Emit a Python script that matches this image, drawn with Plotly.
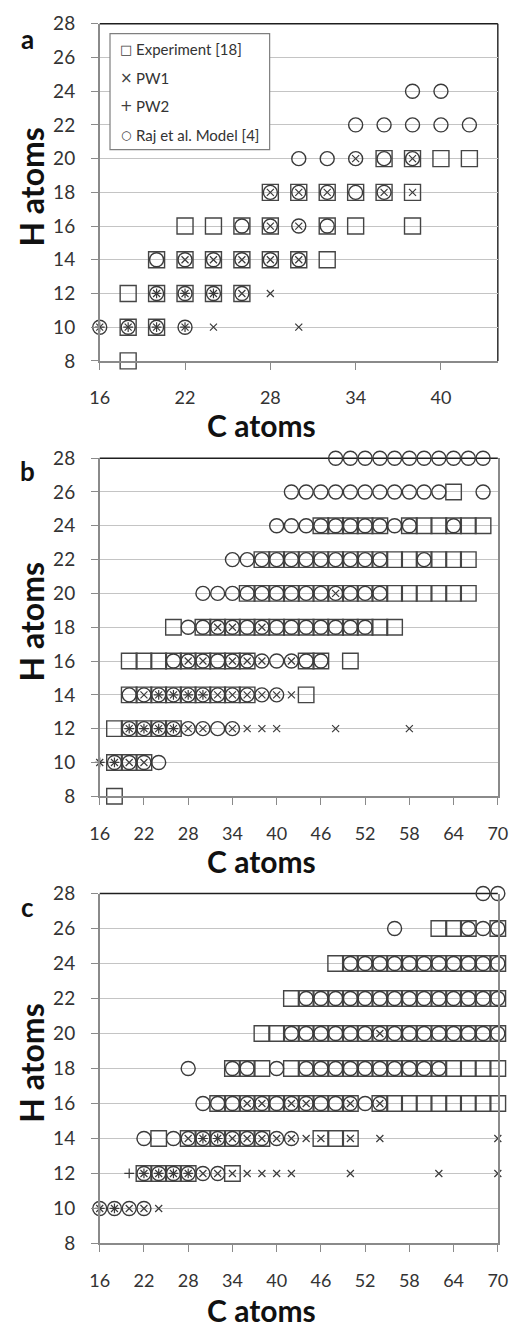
import plotly.graph_objects as go

# ---------------- data (H atoms -> list of C atoms) ----------------
Y_TICKS = [8, 10, 12, 14, 16, 18, 20, 22, 24, 26, 28]
A_X_TICKS = [16, 22, 28, 34, 40]
BC_X_TICKS = [16, 22, 28, 34, 40, 46, 52, 58, 64, 70]
SERIES_NAMES = ["Experiment [18]", "PW1", "PW2", "Raj et al. Model [4]"]
LEGEND_GLYPHS = ["\u25a1", "\u00d7", "+", "\u25cb"]

# panel a
A_EXP = {8: [18], 10: [18, 20], 12: [18, 20, 22, 24, 26],
         14: [20, 22, 24, 26, 28, 30, 32], 16: [22, 24, 26, 28, 32, 34, 38],
         18: [28, 30, 32, 34, 36, 38], 20: [36, 38, 40, 42]}
A_PW1 = {10: [16, 18, 20, 22, 24, 30], 12: [20, 22, 24, 26, 28],
         14: [22, 24, 26, 28, 30], 16: [28, 30], 18: [28, 30, 32, 36, 38],
         20: [34, 38]}
A_PW2 = {10: [16, 18, 20, 22], 12: [20, 22, 24]}
A_RAJ = {10: [16, 18, 20, 22], 12: [20, 22, 24, 26],
         14: [20, 22, 24, 26, 28, 30], 16: [26, 28, 30, 32],
         18: [28, 30, 32, 34, 36], 20: [30, 32, 34, 36, 38],
         22: [34, 36, 38, 40, 42], 24: [38, 40]}

# panel b
B_EXP = {8: [18], 10: [18, 20, 22], 12: [18, 20, 22, 24, 26],
         14: [20, 22, 24, 26, 28, 30, 32, 34, 36, 44],
         16: [20, 22, 24, 26, 28, 30, 32, 34, 36, 44, 46, 50],
         18: [26, 30, 32, 34, 36, 38, 40, 42, 44, 46, 48, 50, 52, 54, 56],
         20: [36, 38, 40, 42, 44, 46, 48, 50, 52, 54, 56, 58, 60, 62, 64, 66],
         22: [38, 40, 42, 44, 46, 48, 50, 52, 54, 56, 58, 60, 62, 64, 66],
         24: [46, 48, 50, 52, 54, 58, 60, 62, 64, 66, 68],
         26: [64]}
B_PW1 = {10: [16, 18, 20, 22],
         12: [20, 22, 24, 26, 28, 30, 34, 36, 38, 40, 48, 58],
         14: [22, 24, 26, 28, 30, 32, 34, 36, 38, 40, 42],
         16: [28, 30, 34, 36, 38, 42], 18: [32, 34, 38], 20: [48]}
B_PW2 = {10: [16, 18], 12: [20, 22, 24, 26], 14: [24, 26, 28, 30]}
B_RAJ = {10: [18, 20, 22, 24], 12: [20, 22, 24, 26, 28, 30, 32, 34],
         14: [20, 22, 24, 26, 28, 30, 32, 34, 36, 38, 40],
         16: [26, 28, 30, 32, 34, 36, 38, 40, 42, 44, 46],
         18: [28, 30, 32, 34, 36, 38, 40, 42, 44, 46, 48, 50, 52],
         20: [30, 32, 34, 36, 38, 40, 42, 44, 46, 48, 50, 52, 54],
         22: [34, 36, 38, 40, 42, 44, 46, 48, 50, 52, 54, 60],
         24: [40, 42, 44, 46, 48, 50, 52, 54, 56, 58, 64],
         26: [42, 44, 46, 48, 50, 52, 54, 56, 58, 60, 62, 68],
         28: [48, 50, 52, 54, 56, 58, 60, 62, 64, 66, 68]}

# panel c
C_EXP = {12: [22, 24, 26, 28, 34],
         14: [24, 28, 30, 32, 34, 36, 38, 46, 48, 50],
         16: [32, 34, 36, 38, 40, 42, 44, 46, 48, 50, 54, 56, 58, 60, 62, 64, 66, 68, 70],
         18: [34, 36, 38, 42, 44, 46, 48, 50, 52, 54, 56, 58, 60, 62, 64, 66, 68, 70],
         20: [38, 40, 42, 44, 46, 48, 50, 52, 54, 56, 58, 60, 62, 64, 66, 68, 70],
         22: [42, 44, 46, 48, 50, 52, 54, 56, 58, 60, 62, 64, 66, 68, 70],
         24: [48, 50, 52, 54, 56, 58, 60, 62, 64, 66, 68, 70],
         26: [62, 64, 66, 70]}
C_PW1 = {10: [16, 18, 20, 22, 24],
         12: [22, 24, 26, 28, 30, 32, 34, 36, 38, 40, 42, 50, 62, 70],
         14: [28, 30, 32, 34, 36, 38, 40, 42, 44, 46, 50, 54, 70],
         16: [36, 38, 42, 44, 50, 54], 20: [54]}
C_PW2 = {10: [16, 18], 12: [20, 22, 24, 26, 28], 14: [30, 32]}
C_RAJ = {10: [16, 18, 20, 22], 12: [22, 24, 26, 28, 30, 32],
         14: [22, 26, 28, 30, 32, 34, 36, 38, 40, 42],
         16: [30, 32, 34, 36, 38, 40, 42, 44, 46, 48, 50, 52, 54],
         18: [28, 34, 36, 40, 44, 46, 48, 50, 52, 54, 56, 58, 60, 62],
         20: [42, 44, 46, 48, 50, 52, 54, 56, 58, 60, 62, 64, 66, 68, 70],
         22: [44, 46, 48, 50, 52, 54, 56, 58, 60, 62, 64, 66, 68, 70],
         24: [50, 52, 54, 56, 58, 60, 62, 64, 66, 68, 70],
         26: [56, 66, 68, 70],
         28: [68, 70]}

# ---------------- helpers ----------------
def flatten(d):
    xs, ys = [], []
    for h, cs in d.items():
        for c in cs:
            xs.append(c)
            ys.append(h)
    return xs, ys

W, H = 521, 1337
FONT = "Lato"
DARK = "#3a3a3a"
AXIS_GRAY = "#8a8a8a"

def px_x(p):
    return p / W

def px_y(p):
    return 1 - p / H

PANELS = [
    dict(key="", data=(A_EXP, A_PW1, A_PW2, A_RAJ), xr=[16, 44], ticks=A_X_TICKS,
         top=12, bottom=355, sq=16, label="a", label_y=27, xt_y=420, right_dark=True),
    dict(key="2", data=(B_EXP, B_PW1, B_PW2, B_RAJ), xr=[16, 70], ticks=BC_X_TICKS,
         top=454, bottom=798, sq=15.5, label="b", label_y=467, xt_y=864, right_dark=False),
    dict(key="3", data=(C_EXP, C_PW1, C_PW2, C_RAJ), xr=[16, 70], ticks=BC_X_TICKS,
         top=897, bottom=1253, sq=15.5, label="c", label_y=911, xt_y=1321, right_dark=False),
]
LEFT, RIGHT = 93.3, 507.3

STYLES = [
    dict(symbol="square-open", color="#454545", width=1.4),
    dict(symbol="x-thin-open", color=DARK, width=1.2),
    dict(symbol="cross-thin-open", color=DARK, width=1.2),
    dict(symbol="circle-open", color=DARK, width=1.4),
]
SIZES = [None, 7, 7, 14]
DRAW_ORDER = [0, 3, 1, 2]

fig = go.Figure()
layout = dict(width=W, height=H, margin=dict(l=0, r=0, t=0, b=0),
              paper_bgcolor="white", plot_bgcolor="white", showlegend=False,
              font=dict(family=FONT, color="#333333"))
annotations = []
shapes = []

for p in PANELS:
    k = p["key"]
    for i in DRAW_ORDER:
        xs, ys = flatten(p["data"][i])
        st = STYLES[i]
        size = p["sq"] if i == 0 else SIZES[i]
        fig.add_trace(go.Scatter(
            x=xs, y=ys, mode="markers", name=SERIES_NAMES[i], showlegend=False,
            xaxis="x" + k, yaxis="y" + k, cliponaxis=False,
            marker=dict(symbol=st["symbol"], size=size, color=st["color"],
                        line=dict(color=st["color"], width=st["width"])),
            hoverinfo="x+y"))
    layout["xaxis" + k] = dict(
        domain=[px_x(LEFT), px_x(RIGHT)], range=p["xr"], tickvals=p["ticks"],
        anchor="y" + k, showgrid=False, zeroline=False, showline=True,
        linecolor=AXIS_GRAY, linewidth=1.5, mirror=False,
        ticks="outside", ticklen=7, tickcolor=AXIS_GRAY, tickwidth=1.2,
        tickfont=dict(family=FONT, size=18, color="#333333"),
        ticklabelstandoff=13)
    layout["yaxis" + k] = dict(
        domain=[px_y(p["bottom"]), px_y(p["top"])], range=[8, 28], tickvals=Y_TICKS,
        anchor="x" + k, showgrid=True, gridcolor="#c4c4c4", gridwidth=1.3,
        zeroline=False, showline=True, linecolor=AXIS_GRAY, linewidth=1.5,
        mirror=not p["right_dark"],
        ticks="outside", ticklen=7, tickcolor=AXIS_GRAY, tickwidth=1.2,
        tickfont=dict(family=FONT, size=19, color="#333333"),
        ticklabelstandoff=12)
    # dark top border (and right border for panel a)
    shapes.append(dict(type="line", xref="paper", yref="paper",
                       x0=px_x(LEFT), x1=px_x(RIGHT), y0=px_y(p["top"]), y1=px_y(p["top"]),
                       line=dict(color="#1e1e1e", width=1.4), layer="below"))
    if p["right_dark"]:
        shapes.append(dict(type="line", xref="paper", yref="paper",
                           x0=px_x(RIGHT), x1=px_x(RIGHT), y0=px_y(p["bottom"]),
                           y1=px_y(p["top"]),
                           line=dict(color="#1e1e1e", width=1.4), layer="below"))
    annotations.append(dict(text="<b>C atoms</b>", x=px_x(262), y=px_y(p["xt_y"]),
                            xref="paper", yref="paper", showarrow=False,
                            xanchor="center", yanchor="middle",
                            font=dict(family=FONT, size=30, color="#111111")))
    annotations.append(dict(text="<b>H atoms</b>", x=px_x(22),
                            y=px_y((p["top"] + p["bottom"]) / 2 - 5),
                            xref="paper", yref="paper", showarrow=False, textangle=-90,
                            xanchor="center", yanchor="middle",
                            font=dict(family=FONT, size=32, color="#111111")))
    annotations.append(dict(text="<b>" + p["label"] + "</b>", x=px_x(18),
                            y=px_y(p["label_y"]), xref="paper", yref="paper",
                            showarrow=False, xanchor="center", yanchor="middle",
                            font=dict(family=FONT, size=26, color="#111111")))

# legend box for panel a
LEG_L, LEG_R, LEG_T, LEG_B = 104, 270, 22, 140
LEG_ROW_Y = [38, 67, 96, 125]
GLYPH_SIZES = [13, 15, 15, 12]
shapes.append(dict(type="rect", xref="paper", yref="paper",
                   x0=px_x(LEG_L), x1=px_x(LEG_R), y0=px_y(LEG_B), y1=px_y(LEG_T),
                   fillcolor="white", line=dict(color="#7f7f7f", width=1.2), layer="above"))
for i, name in enumerate(SERIES_NAMES):
    annotations.append(dict(text=LEGEND_GLYPHS[i], x=px_x(121), y=px_y(LEG_ROW_Y[i]),
                            xref="paper", yref="paper", showarrow=False,
                            xanchor="center", yanchor="middle",
                            font=dict(family="DejaVu Sans", size=GLYPH_SIZES[i],
                                      color="#404040")))
    annotations.append(dict(text=name, x=px_x(129), y=px_y(LEG_ROW_Y[i]),
                            xref="paper", yref="paper", showarrow=False,
                            xanchor="left", yanchor="middle",
                            font=dict(family=FONT, size=15, color="#333333")))

layout["annotations"] = annotations
layout["shapes"] = shapes
fig.update_layout(**layout)

fig.write_html("out.html")
